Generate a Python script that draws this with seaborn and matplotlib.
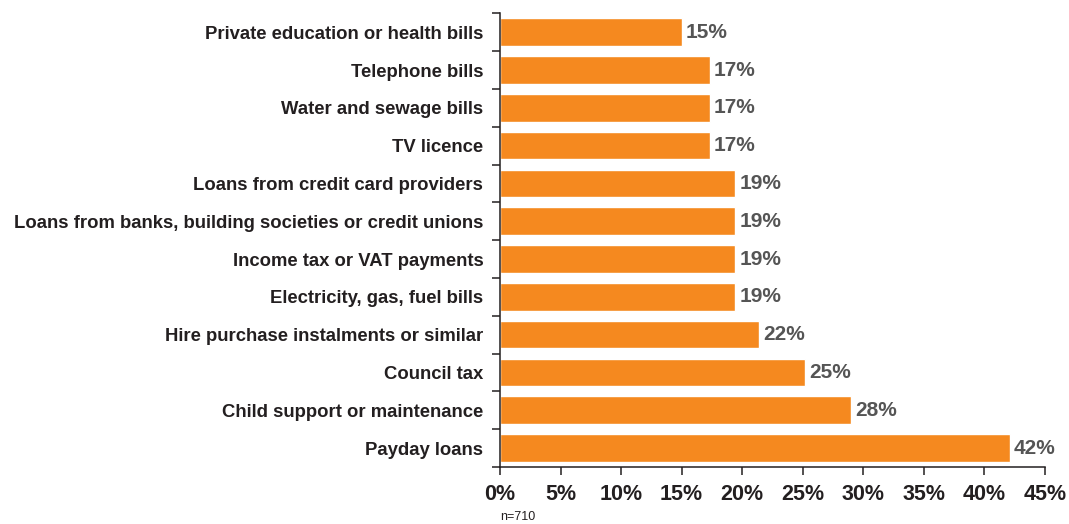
import matplotlib
matplotlib.use("Agg")
import matplotlib.pyplot as plt
import seaborn as sns
import pandas as pd
import numpy as np
from matplotlib.ticker import FixedLocator

categories = [
    "Private education or health bills",
    "Telephone bills",
    "Water and sewage bills",
    "TV licence",
    "Loans from credit card providers",
    "Loans from banks, building societies or credit unions",
    "Income tax or VAT payments",
    "Electricity, gas, fuel bills",
    "Hire purchase instalments or similar",
    "Council tax",
    "Child support or maintenance",
    "Payday loans",
]
values = [15.0, 17.3, 17.3, 17.3, 19.4, 19.4, 19.4, 19.4, 21.4, 25.2, 29.0, 42.1]
value_labels = ["15%", "17%", "17%", "17%", "19%", "19%", "19%", "19%", "22%", "25%", "28%", "42%"]
xticks = [0, 5, 10, 15, 20, 25, 30, 35, 40, 45]
xtick_labels = ["0%", "5%", "10%", "15%", "20%", "25%", "30%", "35%", "40%", "45%"]
note = "n=710"

sns.set_theme(style="white")
plt.rcParams['font.family'] = ['Liberation Sans', 'DejaVu Sans']

df = pd.DataFrame({"category": categories, "value": values})

fig = plt.figure(figsize=(10.69, 5.24), dpi=100)
ax = fig.add_axes([0.4677, 0.1088, 0.5099, 0.8658])

orange = "#F5891F"
sns.barplot(data=df, y="category", x="value", orient="h", color=orange,
            saturation=1, width=0.73, ax=ax)

ax.set_xlim(0, 45)
ax.set_ylim(len(categories) - 0.5, -0.5)
ax.set_xlabel("")
ax.set_ylabel("")

for spine in ["top", "right"]:
    ax.spines[spine].set_visible(False)
for spine in ["left", "bottom"]:
    ax.spines[spine].set_color("#231F20")
    ax.spines[spine].set_linewidth(1.1)

# x ticks
ax.set_xticks(xticks)
ax.set_xticklabels(xtick_labels, fontsize=15.5, fontweight="bold", color="#231F20")
ax.tick_params(axis="x", direction="out", length=6, width=1.1, color="#231F20", pad=6, bottom=True)

# y category labels (no tick marks), boundary tick marks as minor ticks
ax.set_yticks(range(len(categories)))
ax.set_yticklabels(categories, fontsize=13.3, fontweight="bold", color="#231F20")
ax.tick_params(axis="y", which="major", length=0, pad=12)
ax.yaxis.set_minor_locator(FixedLocator(np.arange(-0.5, len(categories), 1.0)))
ax.tick_params(axis="y", which="minor", direction="out", length=6, width=1.1,
               color="#231F20", left=True)

# value labels
for i, (v, lab) in enumerate(zip(values, value_labels)):
    ax.annotate(lab, xy=(v, i), xytext=(3, 0), textcoords="offset points",
                ha="left", va="center", fontsize=15, fontweight="bold", color="#555555")

fig.text(0.468, 0.025, note, ha="left", va="top", fontsize=9, color="#231F20")

fig.savefig("out.png", dpi=100)
